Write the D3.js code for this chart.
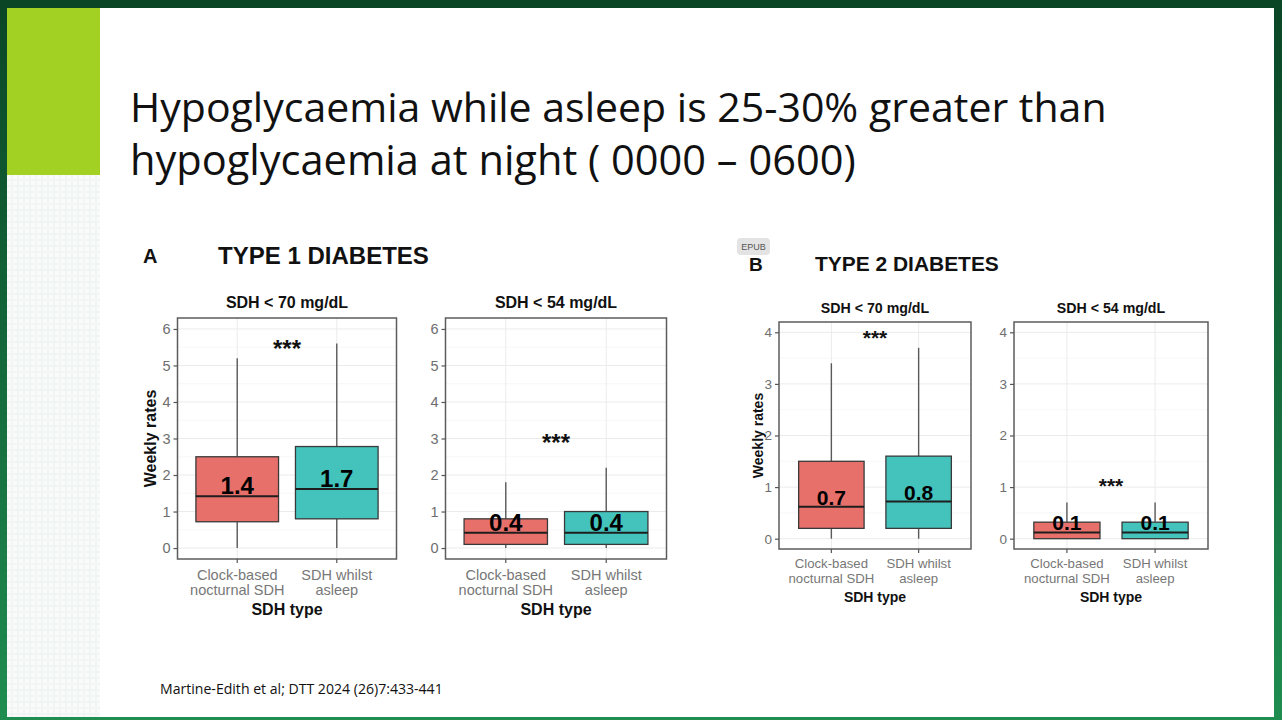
<!DOCTYPE html>
<html lang="en">
<head>
<meta charset="utf-8">
<title>Hypoglycaemia while asleep</title>
<script src="https://cdn.jsdelivr.net/npm/d3@7"></script>
<style>
  body { margin: 0; background: #ffffff; }
  svg { display: block; }
  .tick text { font-family: "Liberation Sans", Arial, sans-serif; }
</style>
</head>
<body>
<script>
// ---- data ----
// each box: [lower whisker, Q1, median, Q3, upper whisker]
var categories = [["Clock-based", "nocturnal SDH"], ["SDH whilst", "asleep"]];
var panelTitles = ["SDH < 70 mg/dL", "SDH < 54 mg/dL"];

var t1Below70 = [[0, 0.72, 1.42, 2.50, 5.2], [0, 0.80, 1.62, 2.78, 5.6]];
var t1Below54 = [[0, 0.10, 0.42, 0.80, 1.8], [0, 0.10, 0.42, 1.00, 2.2]];
var t2Below70 = [[0, 0.20, 0.62, 1.50, 3.4], [0, 0.20, 0.72, 1.60, 3.7]];
var t2Below54 = [[0, 0.00, 0.12, 0.32, 0.7], [0, 0.00, 0.12, 0.32, 0.7]];

var t1Below70Labels = ["1.4", "1.7"];
var t1Below54Labels = ["0.4", "0.4"];
var t2Below70Labels = ["0.7", "0.8"];
var t2Below54Labels = ["0.1", "0.1"];

var starLevels = [5.56, 3.0, 3.95, 1.08];   // height of the "***" marks
var t1Ticks = [0, 1, 2, 3, 4, 5, 6];
var t2Ticks = [0, 1, 2, 3, 4];

var fills = ["#e8706b", "#43c3bc"];

// ---- layout ----
var w = 1282, h = 720;
var font = '"Liberation Sans", Arial, sans-serif';

var figStyle = {
  A: {title: 16, tick: 14.5, xlab: 14.5, axis: 16, value: 24, star: 24, boxW: 0.83,
      titleGap: 10, xl1: 21, xl2: 36, xt: 56, ytitle: -21.5},
  B: {title: 14.2, tick: 13.5, xlab: 13.2, axis: 14, value: 21, star: 21, boxW: 0.75,
      titleGap: 9, xl1: 19, xl2: 34, xt: 53, ytitle: -16}
};

var panels = [
  {fig: "A", data: t1Below70, labels: t1Below70Labels, star: starLevels[0], title: panelTitles[0],
   ticks: t1Ticks, domain: [-0.3, 6.3], x0: 177.5, x1: 396.5, y0: 318, y1: 559, ylab: true},
  {fig: "A", data: t1Below54, labels: t1Below54Labels, star: starLevels[1], title: panelTitles[1],
   ticks: t1Ticks, domain: [-0.3, 6.3], x0: 445.5, x1: 666.5, y0: 318, y1: 559, ylab: false},
  {fig: "B", data: t2Below70, labels: t2Below70Labels, star: starLevels[2], title: panelTitles[0],
   ticks: t2Ticks, domain: [-0.2, 4.2], x0: 779, x1: 971, y0: 322, y1: 549, ylab: true},
  {fig: "B", data: t2Below54, labels: t2Below54Labels, star: starLevels[3], title: panelTitles[1],
   ticks: t2Ticks, domain: [-0.2, 4.2], x0: 1014, x1: 1208, y0: 322, y1: 549, ylab: false}
];

var svg = d3.select("body").append("svg").attr("width", w).attr("height", h);
var defs = svg.append("defs");

// slide background: green frame, white page, dotted strip, lime block
var grad = defs.append("linearGradient").attr("id", "frame").attr("x1", 0).attr("y1", 0).attr("x2", 0).attr("y2", 1);
grad.append("stop").attr("offset", "0%").attr("stop-color", "#0a4526");
grad.append("stop").attr("offset", "100%").attr("stop-color", "#1f8d50");
svg.append("rect").attr("width", w).attr("height", h).attr("fill", "url(#frame)");
svg.append("rect").attr("x", 7).attr("y", 8).attr("width", 1267).attr("height", 709).attr("fill", "#ffffff");

var pat = defs.append("pattern").attr("id", "dots").attr("patternUnits", "userSpaceOnUse")
  .attr("width", 6).attr("height", 6);
pat.append("rect").attr("width", 6).attr("height", 6).attr("fill", "#f1f5f3");
pat.append("rect").attr("x", 1).attr("y", 1).attr("width", 4).attr("height", 4).attr("fill", "#f9fbfa");
svg.append("rect").attr("x", 7).attr("y", 8).attr("width", 93).attr("height", 709).attr("fill", "url(#dots)");
svg.append("rect").attr("x", 7).attr("y", 8).attr("width", 93).attr("height", 167).attr("fill", "#a3d123");

// fit a text to a measured width
function fitWidth(sel, target) {
  var len = sel.node().getComputedTextLength();
  var size = parseFloat(sel.attr("font-size"));
  sel.attr("font-size", size * target / len);
}

var titleLines = ["Hypoglycaemia while asleep is 25-30% greater than", "hypoglycaemia at night ( 0000 \u2013 0600)"];
var titleWidths = [977, 726];
var titleBase = [122, 175];
titleLines.forEach(function(t, i) {
  var tx = svg.append("text").attr("x", 130).attr("y", titleBase[i])
    .attr("font-family", '"Open Sans", sans-serif').attr("font-size", 37).attr("fill", "#111")
    .text(t);
  fitWidth(tx, titleWidths[i]);
});

var cite = svg.append("text").attr("x", 160).attr("y", 694)
  .attr("font-family", '"Open Sans", sans-serif').attr("font-size", 13).attr("fill", "#111")
  .text("Martine-Edith et al; DTT 2024 (26)7:433-441");
fitWidth(cite, 283);

// figure headers
function bold(x, y, size, txt) {
  return svg.append("text").attr("x", x).attr("y", y).attr("font-family", font)
    .attr("font-weight", "bold").attr("font-size", size).attr("fill", "#111").text(txt);
}
bold(143, 263, 20, "A");
fitWidth(bold(218, 264, 22, "TYPE 1 DIABETES"), 211);
bold(749, 271, 19, "B");
fitWidth(bold(815, 271, 19.5, "TYPE 2 DIABETES"), 184);

// EPUB badge
svg.append("rect").attr("x", 737).attr("y", 238).attr("width", 33).attr("height", 17).attr("rx", 4)
  .attr("fill", "#e3e3e3");
svg.append("text").attr("x", 753.5).attr("y", 250).attr("text-anchor", "middle")
  .attr("font-family", font).attr("font-size", 9).attr("fill", "#555").text("EPUB");

// ---- panels ----
panels.forEach(function(p) {
  var st = figStyle[p.fig];
  var x = d3.scaleLinear().domain([0.4, 2.6]).range([p.x0, p.x1]);
  var y = d3.scaleLinear().domain(p.domain).range([p.y1, p.y0]);
  var g = svg.append("g");

  // grid
  var minor = d3.range(p.ticks[0] + 0.5, p.ticks[p.ticks.length - 1], 1);
  g.selectAll(".minor").data(minor).enter().append("line")
    .attr("x1", p.x0).attr("x2", p.x1).attr("y1", d => y(d)).attr("y2", d => y(d))
    .attr("stroke", "#f4f4f4").attr("stroke-width", 0.7);
  g.selectAll(".major").data(p.ticks).enter().append("line")
    .attr("x1", p.x0).attr("x2", p.x1).attr("y1", d => y(d)).attr("y2", d => y(d))
    .attr("stroke", "#ebebeb").attr("stroke-width", 1);
  g.selectAll(".vgrid").data(categories).enter().append("line")
    .attr("x1", (d, i) => x(i + 1)).attr("x2", (d, i) => x(i + 1))
    .attr("y1", p.y0).attr("y2", p.y1)
    .attr("stroke", "#ebebeb").attr("stroke-width", 1);

  // boxes
  var half = (x(1 + st.boxW / 2) - x(1));
  var box = g.selectAll(".box").data(p.data).enter().append("g");
  box.append("line")
    .attr("x1", (d, i) => x(i + 1)).attr("x2", (d, i) => x(i + 1))
    .attr("y1", d => y(d[3])).attr("y2", d => y(d[4]))
    .attr("stroke", "#5a5a5a").attr("stroke-width", 1.4);
  box.append("line")
    .attr("x1", (d, i) => x(i + 1)).attr("x2", (d, i) => x(i + 1))
    .attr("y1", d => y(d[0])).attr("y2", d => y(d[1]))
    .attr("stroke", "#5a5a5a").attr("stroke-width", 1.4);
  box.append("rect")
    .attr("x", (d, i) => x(i + 1) - half).attr("width", 2 * half)
    .attr("y", d => y(d[3])).attr("height", d => Math.max(0, y(d[1]) - y(d[3])))
    .attr("fill", (d, i) => fills[i]).attr("stroke", "#3a3a3a").attr("stroke-width", 1.3);
  box.append("line")
    .attr("x1", (d, i) => x(i + 1) - half).attr("x2", (d, i) => x(i + 1) + half)
    .attr("y1", d => y(d[2])).attr("y2", d => y(d[2]))
    .attr("stroke", "#1e1e1e").attr("stroke-width", 2);

  // median labels
  g.selectAll(".val").data(p.data).enter().append("text")
    .attr("x", (d, i) => x(i + 1)).attr("y", d => y(d[2]) - 2)
    .attr("text-anchor", "middle").attr("font-family", font).attr("font-weight", "bold")
    .attr("font-size", st.value).attr("fill", "#000")
    .text((d, i) => p.labels[i]);

  // significance
  g.append("text").attr("x", x(1.5)).attr("y", y(p.star) + st.star * 0.5)
    .attr("text-anchor", "middle").attr("font-family", font).attr("font-weight", "bold")
    .attr("font-size", st.star).attr("fill", "#111").text("***");

  // border
  g.append("rect").attr("x", p.x0).attr("y", p.y0).attr("width", p.x1 - p.x0).attr("height", p.y1 - p.y0)
    .attr("fill", "none").attr("stroke", "#5c5c5c").attr("stroke-width", 1.5);

  // y axis
  var yAxis = d3.axisLeft(y).tickValues(p.ticks).tickSize(4).tickPadding(3).tickFormat(d3.format("d"));
  var ya = g.append("g").attr("transform", "translate(" + p.x0 + ",0)").call(yAxis);
  ya.attr("font-size", null);
  ya.select(".domain").remove();
  ya.selectAll(".tick line").attr("stroke", "#555").attr("stroke-width", 1.2);
  ya.selectAll(".tick text").style("font-size", st.tick + "px").attr("fill", "#6e6e6e");

  // x axis ticks and labels
  var xl = g.selectAll(".xl").data(categories).enter().append("g");
  xl.append("line")
    .attr("x1", (d, i) => x(i + 1)).attr("x2", (d, i) => x(i + 1))
    .attr("y1", p.y1).attr("y2", p.y1 + 4).attr("stroke", "#555").attr("stroke-width", 1.2);
  xl.append("text").attr("x", (d, i) => x(i + 1)).attr("y", p.y1 + st.xl1)
    .attr("text-anchor", "middle").attr("font-family", font).attr("font-size", st.xlab)
    .attr("fill", "#777").text(d => d[0]);
  xl.append("text").attr("x", (d, i) => x(i + 1)).attr("y", p.y1 + st.xl2)
    .attr("text-anchor", "middle").attr("font-family", font).attr("font-size", st.xlab)
    .attr("fill", "#777").text(d => d[1]);

  // titles
  var cx = (p.x0 + p.x1) / 2;
  g.append("text").attr("x", cx).attr("y", p.y0 - st.titleGap)
    .attr("text-anchor", "middle").attr("font-family", font).attr("font-weight", "bold")
    .attr("font-size", st.title).attr("fill", "#111").text(p.title);
  g.append("text").attr("x", cx).attr("y", p.y1 + st.xt)
    .attr("text-anchor", "middle").attr("font-family", font).attr("font-weight", "bold")
    .attr("font-size", st.axis).attr("fill", "#111").text("SDH type");
  if (p.ylab) {
    var yc = (p.y0 + p.y1) / 2, xc = p.x0 + st.ytitle;
    g.append("text").attr("transform", "translate(" + xc + "," + yc + ") rotate(-90)")
      .attr("text-anchor", "middle").attr("font-family", font).attr("font-weight", "bold")
      .attr("font-size", st.axis).attr("fill", "#111").text("Weekly rates");
  }
});
</script>
</body>
</html>
